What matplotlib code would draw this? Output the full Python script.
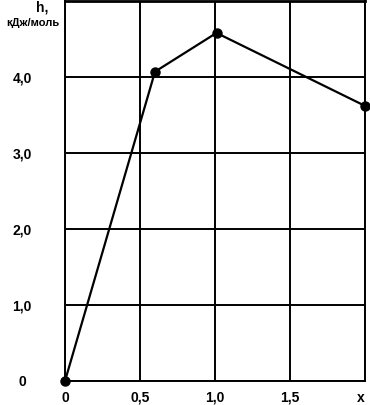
import matplotlib.pyplot as plt

# data
x_vals = [0.0, 0.6, 1.01, 2.0]
h_vals = [0.0, 4.07, 4.58, 3.62]

x_ticks = [0, 0.5, 1.0, 1.5, 2.0]
x_labels = ["0", "0,5", "1,0", "1,5", "x"]
y_ticks = [0, 1, 2, 3, 4, 5]
y_labels = ["0", "1,0", "2,0", "3,0", "4,0", ""]

plt.rcParams['font.family'] = ['Liberation Sans', 'DejaVu Sans']
plt.rcParams['font.weight'] = 'bold'

fig = plt.figure(figsize=(3.7, 4.05), dpi=100)
ax = fig.add_axes([65 / 370, 24 / 405, 300 / 370, 380 / 405])

ax.plot(x_vals, h_vals, color='black', lw=1.6, marker='o', ms=6.5,
        clip_on=False, zorder=3)

ax.set_xlim(0, 2.0)
ax.set_ylim(0, 5.0)
ax.set_xticks(x_ticks)
ax.set_xticklabels(x_labels, fontsize=10, fontweight='bold')
ax.set_yticks(y_ticks)
ax.set_yticklabels(y_labels, fontsize=10, fontweight='bold')
ax.tick_params(axis='both', length=0)
ax.tick_params(axis='x', pad=7)
ax.tick_params(axis='y', pad=31)
for lab in ax.get_yticklabels():
    lab.set_horizontalalignment('center')
ax.get_xticklabels()[-1].set_horizontalalignment('right')

ax.grid(True, color='black', lw=1.4)
for side in ['left', 'bottom', 'top', 'right']:
    ax.spines[side].set_linewidth(1.4)
ax.spines['top'].set_linewidth(2)

fig.text(42 / 370, 1 - 8 / 405, "h,", ha='center', va='center',
         fontsize=10, fontweight='bold')
fig.text(33 / 370, 1 - 23 / 405, "кДж/моль", ha='center', va='center',
         fontsize=8, fontweight='bold')

fig.savefig("out.png", dpi=100)
